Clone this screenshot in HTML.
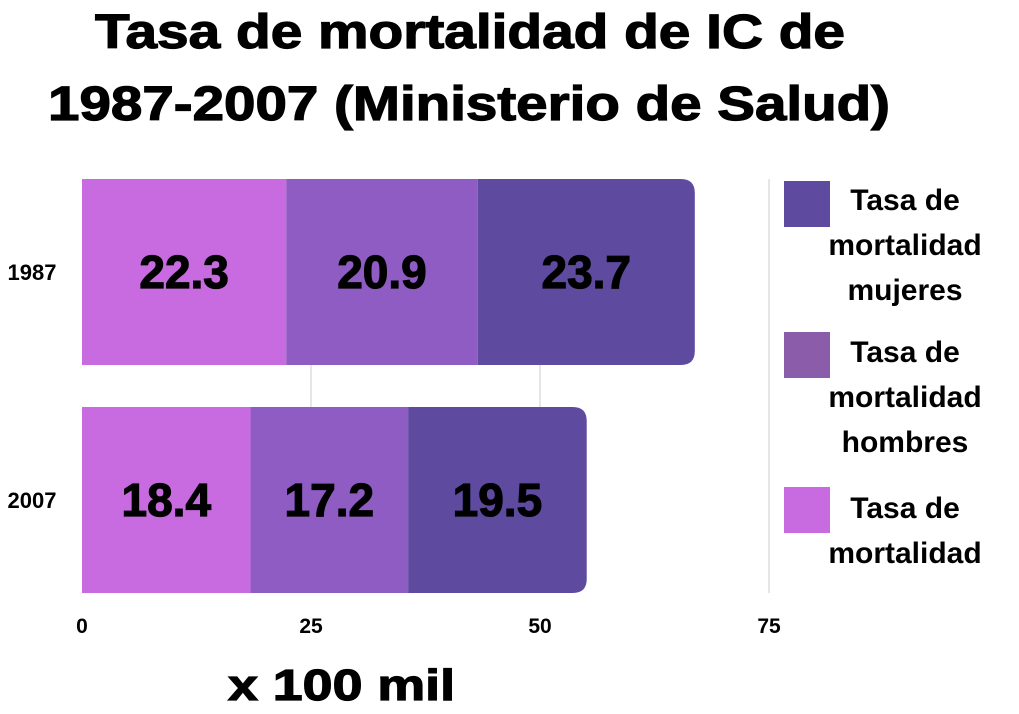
<!DOCTYPE html>
<html><head><meta charset="utf-8"><style>
body{margin:0;width:1019px;height:709px;background:#fff;overflow:hidden;font-family:"Liberation Sans",sans-serif;}
.hv{stroke:#000;stroke-width:1.2;}
</style></head><body>
<svg width="1019" height="709">
<text class="hv" x="95" y="48" textLength="750" lengthAdjust="spacingAndGlyphs" font-size="48" font-weight="bold">Tasa de mortalidad de IC de</text>
<text class="hv" x="48" y="120" textLength="842" lengthAdjust="spacingAndGlyphs" font-size="48" font-weight="bold">1987-2007 (Ministerio de Salud)</text>
<g id="grid"></g>
<g id="bars"></g>
<g id="ticks"></g>
<text class="hv" x="228" y="700" textLength="227" lengthAdjust="spacingAndGlyphs" font-size="44" font-weight="bold">x 100 mil</text>
<g font-size="30" font-weight="bold" text-anchor="middle">
<rect x="784" y="181" width="46" height="46" fill="#5E4BA0"/>
<text><tspan x="905" y="210">Tasa de</tspan><tspan x="905" y="255">mortalidad</tspan><tspan x="905" y="300">mujeres</tspan></text>
<rect x="784" y="332" width="46" height="46" fill="#8A5CAA"/>
<text><tspan x="905" y="362">Tasa de</tspan><tspan x="905" y="407">mortalidad</tspan><tspan x="905" y="452">hombres</tspan></text>
<rect x="784" y="487" width="46" height="46" fill="#C86AE0"/>
<text><tspan x="905" y="518">Tasa de</tspan><tspan x="905" y="563">mortalidad</tspan></text>
</g>
</svg>
<script>
const categories=["1987","2007"];
const totalVals=[22.3,18.4];
const hombresVals=[20.9,17.2];
const mujeresVals=[23.7,19.5];
const tickVals=[0,25,50,75];
const NS="http://www.w3.org/2000/svg";
const x0=82,pxPer=229/25;
const xs=v=>x0+v*pxPer;
const rowTop=[179,407],rowH=186;
function mk(tag,attrs,parent){const e=document.createElementNS(NS,tag);for(const k in attrs)e.setAttribute(k,attrs[k]);document.getElementById(parent).appendChild(e);return e;}
tickVals.forEach((t,i)=>{
 if(i>0){const l=mk('line',{x1:xs(t),x2:xs(t),y1:179,y2:593,stroke:'#ccc','stroke-width':1},'grid');
 
 }
 const tx=mk('text',{x:xs(t),y:633,'text-anchor':'middle','font-size':21,'font-weight':'bold'},'ticks');tx.textContent=t;
 
 
});
const series=[[totalVals,'#C86AE0','total'],[hombresVals,'#8E5CC2','hombres'],[mujeresVals,'#5E4BA0','mujeres']];
categories.forEach((c,i)=>{
 const y=rowTop[i];
 const lab=mk('text',{x:32,y:y+rowH/2+8,'text-anchor':'middle','font-size':22,'font-weight':'bold'},'ticks');lab.textContent=c;
 
 
 let acc=0;
 series.forEach((s,j)=>{
  const v=s[0][i],a=xs(acc),b=xs(acc+v);acc+=v;
  let el;
  if(j===series.length-1){
   const r=14;
   el=mk('path',{d:`M${a},${y}H${b-r}Q${b},${y} ${b},${y+r}V${y+rowH-r}Q${b},${y+rowH} ${b-r},${y+rowH}H${a}Z`,fill:s[1]},'bars');
  } else el=mk('rect',{x:a,y:y,width:b-a,height:rowH,fill:s[1]},'bars');
  
  
  const t=mk('text',{x:(a+b)/2,y:y+rowH/2+16,'text-anchor':'middle','font-size':46,'font-weight':'bold','class':'hv'},'bars');t.textContent=v;
  
  
 });
});
</script>
</body></html>
